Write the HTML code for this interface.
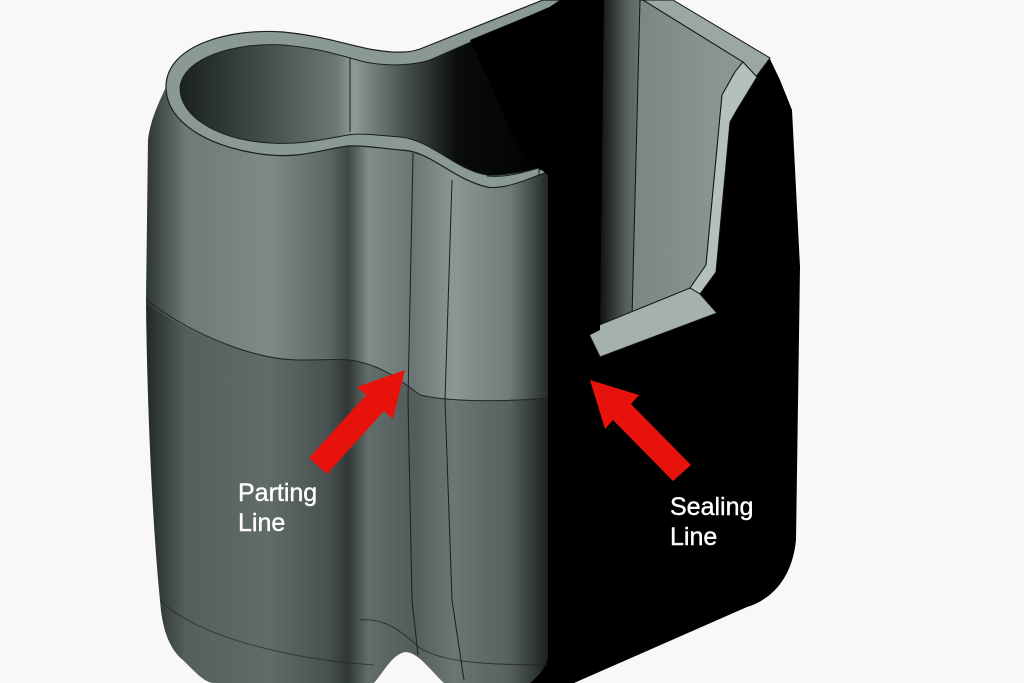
<!DOCTYPE html>
<html><head><meta charset="utf-8"><style>
html,body{margin:0;padding:0;background:#f8f8f6;}
svg{display:block;}
text{font-family:"Liberation Sans",sans-serif;fill:#fff;font-size:25px;stroke:#fff;stroke-width:0.4;}
</style></head><body>
<svg width="1024" height="683" viewBox="0 0 1024 683" xmlns="http://www.w3.org/2000/svg">
<defs>
<linearGradient id="body" x1="146" y1="0" x2="550" y2="0" gradientUnits="userSpaceOnUse">
<stop offset="0" stop-color="#2c3533"/>
<stop offset="0.1" stop-color="#6d7a78"/>
<stop offset="0.3" stop-color="#7d8a88"/>
<stop offset="0.45" stop-color="#5d6967"/>
<stop offset="0.5" stop-color="#3e4846"/>
<stop offset="0.55" stop-color="#7f8c8a"/>
<stop offset="0.66" stop-color="#6a7674"/>
<stop offset="0.76" stop-color="#8a9795"/>
<stop offset="0.9" stop-color="#707c7a"/>
<stop offset="1" stop-color="#1e2524"/>
</linearGradient>
<linearGradient id="inner" x1="180" y1="0" x2="550" y2="0" gradientUnits="userSpaceOnUse">
<stop offset="0" stop-color="#1a2120"/>
<stop offset="0.2" stop-color="#3d4745"/>
<stop offset="0.42" stop-color="#6a7775"/>
<stop offset="0.47" stop-color="#8d9a98"/>
<stop offset="0.6" stop-color="#4b5553"/>
<stop offset="0.75" stop-color="#0a0c0c"/>
<stop offset="1" stop-color="#000"/>
</linearGradient>
<linearGradient id="strip" x1="600" y1="0" x2="645" y2="0" gradientUnits="userSpaceOnUse">
<stop offset="0" stop-color="#111"/>
<stop offset="0.6" stop-color="#56615f"/>
<stop offset="1" stop-color="#6e7b79"/>
</linearGradient>
<linearGradient id="plate" x1="640" y1="0" x2="720" y2="0" gradientUnits="userSpaceOnUse">
<stop offset="0" stop-color="#7a8785"/>
<stop offset="1" stop-color="#899694"/>
</linearGradient>
<clipPath id="bodyclip">
<path id="bp" d="M166,87 C160,100 150,120 148,140 L146,300 C147,400 152,520 160,600 C162,630 170,650 183,660 C195,672 205,683 214,683 L374,683 C385,670 392,655 405,652 C418,652 430,670 444,683 L530,683 C540,675 548,665 548,655 L548,172 C540,170 500,188 487,187 C450,178 430,150 400,150 C380,148 360,145 348,146 C320,150 300,158 270,155 C215,150 172,125 166,87 Z"/>
</clipPath>
</defs>
<rect width="1024" height="683" fill="#f8f8f6"/>
<!-- black silhouette -->
<path d="M440,60 L543,0 L673,0 L769,57 L780,80 L792,110 L800,267 L796,540 C792,580 770,600 747,607 L574,683 L520,683 L520,100 Z" fill="#000"/>
<!-- right plate -->
<polygon points="604,0 640,0 632,317 600,330" fill="url(#strip)"/>
<polygon points="640,0 643,0 743,62 735,72 722,95 706,265 690,288 632,317" fill="url(#plate)" stroke="#111" stroke-width="1"/>
<polygon points="643,0 673,0 770,58 755,78 743,62" fill="#9aa7a5" stroke="#111" stroke-width="1"/>
<polygon points="743,62 757,77 738,108 730,122 716,272 700,294 690,288 706,265 722,95 735,72" fill="#b3c0be" stroke="#111" stroke-width="1"/>
<polygon points="690,288 700,294 717,313 600,357 587,330" fill="#a4b1af" stroke="#111" stroke-width="1"/>
<!-- body front -->
<use href="#bp" fill="url(#body)"/>
<g clip-path="url(#bodyclip)">
<path d="M140,300 C200,340 260,360 300,360 C330,360 345,358 360,362 C385,368 400,380 420,395 C450,402 500,402 560,398 L560,690 L140,690 Z" fill="#000" fill-opacity="0.22"/>
</g>
<path d="M146,300 C200,340 260,360 300,360 C330,360 345,358 360,362 C385,368 400,380 420,395 C450,402 500,402 548,398" fill="none" stroke="#1e2524" stroke-width="1"/>
<!-- rim -->
<path d="M166,87 C166,45 230,28 283,32 C325,36 350,46 375,50 C400,54 412,52 420,49 L543,0 L560,0 L548,172 C535,176 505,190 487,187 C450,178 430,150 400,150 C380,148 360,145 348,146 C320,150 300,158 270,155 C215,150 166,125 166,87 Z" fill="#8a9896" stroke="#1a1f1e" stroke-width="1.2"/>
<path d="M180,88 C182,58 235,42 283,45 C320,48 345,57 365,62 C390,67 415,65 430,60 L548,8 L548,170 C530,168 505,177 487,175 C455,170 432,140 400,137 C375,135 360,133 348,135 C320,140 300,145 270,143 C220,140 180,118 180,88 Z" fill="url(#inner)" stroke="#1a1f1e" stroke-width="1"/>
<!-- black back -->
<path d="M470,40 L548,8 L560,0 L600,0 L600,330 L560,350 L548,400 L548,175 C540,170 535,160 520,150 Z" fill="#000"/>
<path d="M487,187 C505,190 530,178 539,175 L539,168 C530,170 510,178 487,176" fill="#8a9896" stroke="#1a1f1e" stroke-width="1"/>
<!-- lines -->
<line x1="350" y1="58" x2="350" y2="132" stroke="#1a1f1e" stroke-width="1"/>
<path d="M413,153 L408,400 L412,600 L418,655" fill="none" stroke="#1a1f1e" stroke-width="1"/>
<path d="M452,180 L445,400 L452,600 L464,680" fill="none" stroke="#1a1f1e" stroke-width="1"/>
<path d="M360,620 C385,618 400,630 420,648 C440,660 470,665 548,665" fill="none" stroke="#1a1f1e" stroke-width="1" opacity="0.7"/>
<path d="M160,600 C200,640 300,660 374,665" fill="none" stroke="#1a1f1e" stroke-width="1" opacity="0.6"/>
<!-- arrows -->
<polygon points="405,370 393,419 384,411 327,474 309,458 366,395 357,387" fill="#e8120c"/>
<polygon points="590,380 639,395 631,404 691,465 673,481 613,420 605,429" fill="#e8120c"/>
<!-- labels -->
<text x="238" y="501">Parting</text>
<text x="238" y="531">Line</text>
<text x="670" y="515">Sealing</text>
<text x="670" y="545">Line</text>
</svg>
</body></html>
